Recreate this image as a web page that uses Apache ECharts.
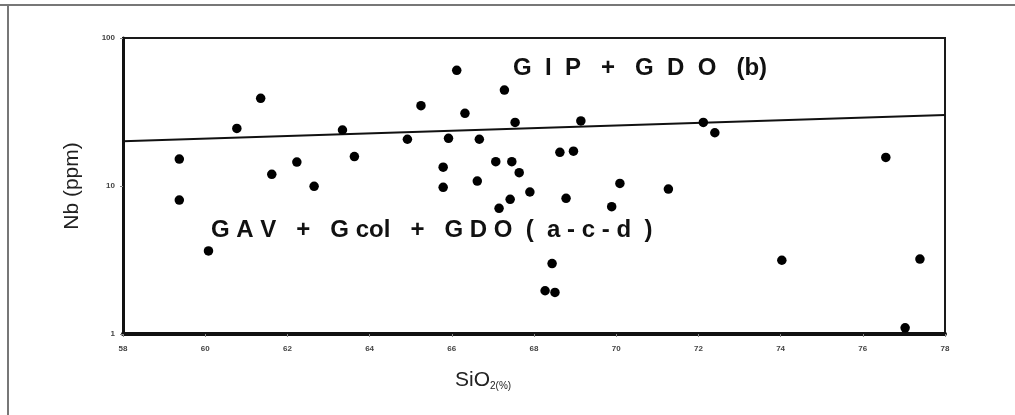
<!DOCTYPE html>
<html>
<head>
<meta charset="utf-8">
<script src="https://cdn.jsdelivr.net/npm/echarts@6/dist/echarts.min.js"></script>
<style>
html,body{margin:0;padding:0;background:#fff;}
#chart{width:1015px;height:415px;}
</style>
</head>
<body>
<div id="chart"></div>
<script>
// SiO2 (%) and Nb (ppm) of each sample
const sio2 = [59.37, 59.37, 60.08, 60.77, 61.35, 61.62, 62.23, 62.65, 63.34, 63.63,
  64.92, 65.25, 66.12, 66.32, 65.92, 66.67, 65.79, 65.79, 66.62, 67.28,
  67.54, 69.14, 67.07, 67.46, 67.64, 67.90, 67.42, 67.15, 68.63, 68.96,
  68.78, 70.09, 69.89, 68.44, 68.27, 68.51, 72.12, 72.40, 71.27, 76.56,
  74.03, 77.39, 77.03];
const nb = [15.2, 8.04, 3.64, 24.5, 39.1, 12.0, 14.5, 9.95, 23.9, 15.8,
  20.7, 34.9, 60.5, 31.0, 21.0, 20.7, 13.4, 9.80, 10.8, 44.5,
  26.9, 27.5, 14.6, 14.6, 12.3, 9.11, 8.13, 7.07, 16.9, 17.2,
  8.26, 10.4, 7.25, 2.99, 1.96, 1.91, 26.9, 22.9, 9.54, 15.6,
  3.15, 3.21, 1.10];
// Trend line end points
const trendX = [58, 78];
const trendY = [20.1, 30.2];
// Axis settings
const xMin = 58, xMax = 78, xStep = 2;
const yMin = 1, yMax = 100;
const groupLabels = ['G  I  P   +   G  D  O   (b)', 'G A V   +   G col   +   G D O  (  a - c - d  )'];

const points = sio2.map((x, i) => [x, nb[i]]);
const trend = trendX.map((x, i) => [x, trendY[i]]);

const chart = echarts.init(document.getElementById('chart'));
chart.setOption({
  backgroundColor: '#fff',
  animation: false,
  grid: {left: 123, right: 70, top: 38, bottom: 81, show: true, borderColor: '#1a1a1a', borderWidth: 2, backgroundColor: 'transparent'},
  xAxis: {
    type: 'value', min: xMin, max: xMax, interval: xStep,
    axisLine: {onZero: false, lineStyle: {color: '#111', width: 4}},
    axisTick: {show: true, length: 3, lineStyle: {color: '#888', width: 1}},
    axisLabel: {fontSize: 8, fontWeight: 'bold', color: '#444', margin: 11, fontFamily: 'Liberation Sans'},
    splitLine: {show: false}
  },
  yAxis: {
    type: 'log', logBase: 10, min: yMin, max: yMax,
    name: 'Nb (ppm)', nameLocation: 'middle', nameGap: 40, nameRotate: 90,
    nameTextStyle: {fontSize: 21, color: '#222', fontFamily: 'Liberation Sans'},
    axisLine: {lineStyle: {color: '#111', width: 3}},
    axisTick: {show: true, length: 3, lineStyle: {color: '#888', width: 1}},
    minorTick: {show: false},
    axisLabel: {fontSize: 8, fontWeight: 'bold', color: '#444', margin: 8, fontFamily: 'Liberation Sans'},
    splitLine: {show: false}
  },
  series: [
    {type: 'line', data: trend, symbol: 'none', lineStyle: {color: '#111', width: 2}, z: 2},
    {type: 'scatter', data: points, symbol: 'circle', symbolSize: 9.5, itemStyle: {color: '#000', opacity: 1}, z: 3}
  ],
  graphic: [
    {type: 'line', shape: {x1: 0, y1: 5, x2: 1015, y2: 5}, style: {stroke: '#777', lineWidth: 2}},
    {type: 'line', shape: {x1: 8, y1: 5, x2: 8, y2: 415}, style: {stroke: '#777', lineWidth: 2}},
    {type: 'text', left: 513, top: 56, style: {text: groupLabels[0], font: 'bold 24px "Liberation Sans"', fill: '#111'}},
    {type: 'text', left: 211, top: 218, style: {text: groupLabels[1], font: 'bold 24px "Liberation Sans"', fill: '#111'}},
    {type: 'text', left: 455, top: 370, style: {
      text: '{a|SiO}{b|2(%)}',
      rich: {
        a: {fontSize: 21, fontFamily: 'Liberation Sans', fill: '#222', verticalAlign: 'bottom'},
        b: {fontSize: 10, fontFamily: 'Liberation Sans', fill: '#222', verticalAlign: 'bottom'}
      }
    }}
  ]
});
</script>
</body>
</html>
